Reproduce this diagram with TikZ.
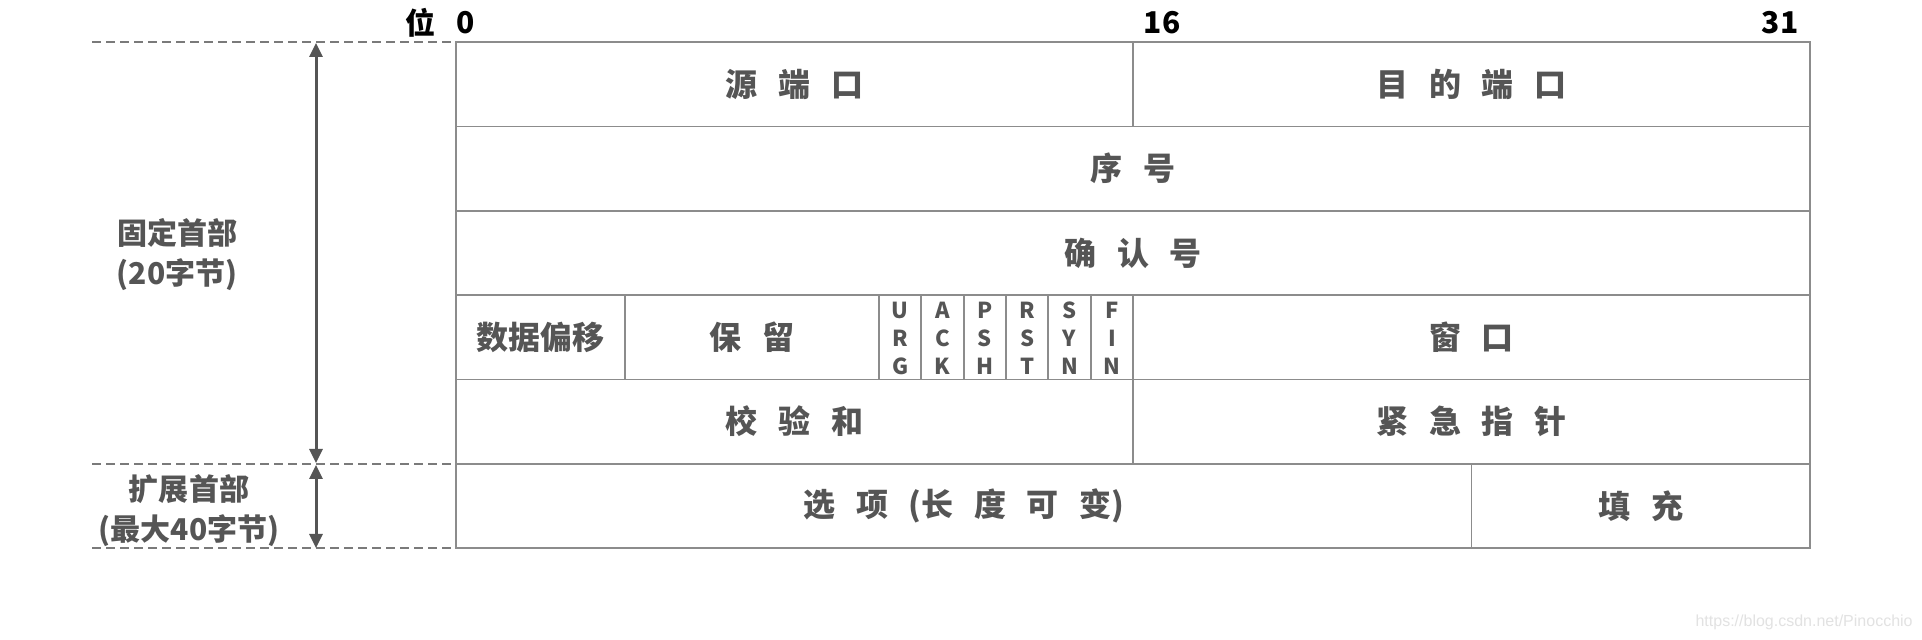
\documentclass[tikz,border=0pt]{standalone}
\usepackage{fontspec}
\setmainfont{Noto Sans CJK SC}[WordSpace=2.8]
\newfontfamily\urlfont{Liberation Sans}
\usetikzlibrary{arrows.meta}
\definecolor{tabgray}{HTML}{8C8C8C}
\definecolor{txtgray}{HTML}{555555}
\definecolor{dashgray}{HTML}{7A7A7A}
\definecolor{wmgray}{HTML}{E2E2E2}

\begin{document}
\begin{tikzpicture}[x=0.5pt,y=-0.5pt,
  cell/.style={draw=tabgray,line width=0.9pt},
  guide/.style={draw=dashgray,line width=1pt,dash pattern=on 4.5pt off 2.5pt},
  dim/.style={draw=txtgray,line width=1.5pt,{Triangle[length=7pt,width=6.5pt]}-{Triangle[length=7pt,width=6.5pt]}},
  lbl/.style={text=txtgray,inner sep=0pt,font=\bfseries\fontsize{16pt}{19pt}\selectfont},
  sidelbl/.style={text=txtgray,inner sep=0pt,align=center,font=\bfseries\fontsize{15pt}{20pt}\selectfont},
  flag/.style={text=txtgray,inner sep=0pt,align=center,font=\bfseries\fontsize{11pt}{14pt}\selectfont},
  bitlbl/.style={text=black,inner sep=0pt,font=\bfseries\fontsize{15pt}{18pt}\selectfont}]
\useasboundingbox (0,0) rectangle (1922,640);
\fill[white] (0,0) rectangle (1922,640);

%cadre du tableau
\draw[cell] (456,42) rectangle (1810,548);
\foreach \y in {126.5,211,295,379.5,464}
  \draw[cell] (456,\y) -- (1810,\y);

%separations verticales
\draw[cell] (1133,42) -- (1133,126.5);
\draw[cell] (625,295) -- (625,379.5);
\foreach \i in {0,...,6}
  \draw[cell] (879+\i*42.33,295) -- (879+\i*42.33,379.5);
\draw[cell] (1133,379.5) -- (1133,464);
\draw[cell] (1471.5,464) -- (1471.5,548);

%numeros de bits
\node[bitlbl] (wei) at (420,23) {位};
\node[bitlbl] (b0) at (466,23) {0};
\node[bitlbl] (b16) at (1162,23) {16};
\node[bitlbl] (b31) at (1780,23) {31};

%champs
\node[lbl] (srcport) at (794.5,84) {源 端 口};
\node[lbl] (dstport) at (1471.5,84) {目 的 端 口};
\node[lbl] (seq) at (1133,168.5) {序 号};
\node[lbl] (ack) at (1133,253) {确 认 号};
\node[lbl] (offset) at (540.5,337) {数据偏移};
\node[lbl] (reserved) at (752,337) {保 留};
\foreach \f [count=\i from 0] in {{U\\R\\G},{A\\C\\K},{P\\S\\H},{R\\S\\T},{S\\Y\\N},{F\\I\\N}}
  \node[flag] (flag\i) at (900.2+\i*42.33,338) {\f};
\node[lbl] (window) at (1471.5,337) {窗 口};
\node[lbl] (checksum) at (794.5,421.5) {校 验 和};
\node[lbl] (urgent) at (1471.5,421.5) {紧 急 指 针};
\node[lbl] (options) at (964,506) {选 项 (长 度 可 变)};
\node[lbl] (padding) at (1641,506) {填 充};

%lignes pointillees
\draw[guide] (92,42) -- (456,42);
\draw[guide] (92,464) -- (456,464);
\draw[guide] (92,548) -- (456,548);

%fleches
\coordinate (ftop) at (316,43);
\coordinate (fmid) at (316,463);
\coordinate (etop) at (316,465);
\coordinate (ebot) at (316,548);
\draw[dim] (ftop) -- (fmid);
\draw[dim] (etop) -- (ebot);

%en-tetes
\node[sidelbl] (fixed) at (177,255) {固定首部\\(20字节)};
\node[sidelbl] (extended) at (189,511) {扩展首部\\(最大40字节)};

\node[text=wmgray,inner sep=0pt,anchor=east,font=\urlfont\fontsize{8pt}{9pt}\selectfont] (wm) at (1913,622) {https://blog.csdn.net/Pinocchio};

\end{tikzpicture}
\end{document}
